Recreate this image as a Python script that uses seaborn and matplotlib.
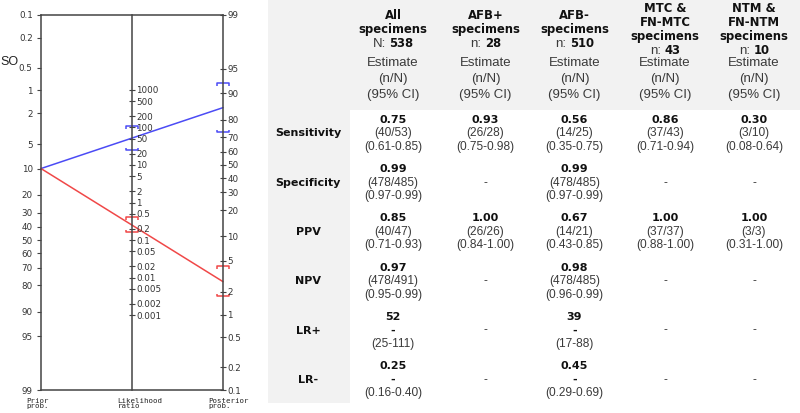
import numpy as np
import pandas as pd
import matplotlib
matplotlib.use("Agg")
import matplotlib.pyplot as plt
import seaborn as sns
from matplotlib.path import Path
from matplotlib.patches import Rectangle

# --- nomogram data ---
prob_ticks = [0.1, 0.2, 0.5, 1, 2, 5, 10, 20, 30, 40, 50, 60, 70, 80, 90, 95, 99]
lr_ticks = [1000, 500, 200, 100, 50, 20, 10, 5, 2, 1, 0.5, 0.2, 0.1,
            0.05, 0.02, 0.01, 0.005, 0.002, 0.001]
nomo_prior = 10            # prior probability (%)
nomo_lr = [52, 0.25]       # LR+ , LR-
nomo_lr_low = [25, 0.16]
nomo_lr_high = [111, 0.40]
nomo_colors = ["#4b4bf5", "#f04848"]

# --- table data ---
col_names = ["All\nspecimens", "AFB+\nspecimens", "AFB-\nspecimens",
             "MTC &\nFN-MTC\nspecimens", "NTM &\nFN-NTM\nspecimens"]
col_n_prefix = ["N:", "n:", "n:", "n:", "n:"]
col_n = [538, 28, 510, 43, 10]
metrics = ["Sensitivity", "Specificity", "PPV", "NPV", "LR+", "LR-"]

sens_est = ["0.75", "0.93", "0.56", "0.86", "0.30"]
sens_n = ["40/53", "26/28", "14/25", "37/43", "3/10"]
sens_ci = ["0.61-0.85", "0.75-0.98", "0.35-0.75", "0.71-0.94", "0.08-0.64"]
spec_est = ["0.99", None, "0.99", None, None]
spec_n = ["478/485", None, "478/485", None, None]
spec_ci = ["0.97-0.99", None, "0.97-0.99", None, None]
ppv_est = ["0.85", "1.00", "0.67", "1.00", "1.00"]
ppv_n = ["40/47", "26/26", "14/21", "37/37", "3/3"]
ppv_ci = ["0.71-0.93", "0.84-1.00", "0.43-0.85", "0.88-1.00", "0.31-1.00"]
npv_est = ["0.97", None, "0.98", None, None]
npv_n = ["478/491", None, "478/485", None, None]
npv_ci = ["0.95-0.99", None, "0.96-0.99", None, None]
lrp_est = ["52", None, "39", None, None]
lrp_n = ["-", None, "-", None, None]
lrp_ci = ["25-111", None, "17-88", None, None]
lrn_est = ["0.25", None, "0.45", None, None]
lrn_n = ["-", None, "-", None, None]
lrn_ci = ["0.16-0.40", None, "0.29-0.69", None, None]

table_est = [sens_est, spec_est, ppv_est, npv_est, lrp_est, lrn_est]
table_n = [sens_n, spec_n, ppv_n, npv_n, lrp_n, lrn_n]
table_ci = [sens_ci, spec_ci, ppv_ci, npv_ci, lrp_ci, lrn_ci]

sns.set_style("white")
plt.rcParams["font.family"] = ["Liberation Sans", "DejaVu Sans"]

W, H = 800, 413
fig = plt.figure(figsize=(W / 100, H / 100), dpi=100)
fig.patch.set_facecolor("white")


def logit(p):
    p = np.asarray(p, dtype=float) / 100.0
    return np.log(p / (1 - p))


z_top = -float(logit(prob_ticks[0]))
z_bot = -float(logit(prob_ticks[-1]))
shift = z_top + z_bot


def z_prior(p):
    return -logit(p)


def z_post(p):
    return logit(p) + shift


def z_lr(lr):
    return (np.log(np.asarray(lr, dtype=float)) + shift) / 2


# ---------------- table (pixel layout) ----------------
ax_t = fig.add_axes([0, 0, 1, 1], zorder=-1)
ax_t.set_xlim(0, W)
ax_t.set_ylim(H, 0)
ax_t.axis("off")
gray = "#f2f2f2"
ax_t.add_patch(Rectangle((268, 0), 82, 403, color=gray, lw=0))
ax_t.add_patch(Rectangle((268, 0), W - 268, 110, color=gray, lw=0))

col_x = [393, 485.5, 574.5, 665, 754]
label_x = 308
txt_col = "#3a3a3a"
bold_font = dict(family="DejaVu Sans", weight="bold", size=8, color="#111111")
head_font = dict(family="DejaVu Sans", weight="bold", size=8.4, color="#111111")
reg_font = dict(family="Liberation Sans", size=8.6, color=txt_col)
est_font = dict(family="Liberation Sans", size=9.5, color=txt_col)

renderer = fig.canvas.get_renderer()
for x, name, pre, n in zip(col_x, col_names, col_n_prefix, col_n):
    lines = name.split("\n")
    k = len(lines) + 1
    ys = 29.5 + (np.arange(k) - (k - 1) / 2) * 14.3
    for y, ln in zip(ys, lines):
        ax_t.text(x, y, ln, ha="center", va="center", **head_font)
    # "N: 538" with a bold number, centred as one piece
    t1 = ax_t.text(x, ys[-1], pre, ha="left", va="center", **est_font)
    t2 = ax_t.text(x, ys[-1], str(n), ha="left", va="center", **head_font)
    w1 = t1.get_window_extent(renderer).width
    w2 = t2.get_window_extent(renderer).width
    gap = 3.5
    start = x - (w1 + gap + w2) / 2
    t1.set_x(start)
    t2.set_x(start + w1 + gap)
    for y, ln in zip([63, 79, 95], ["Estimate", "(n/N)", "(95% CI)"]):
        ax_t.text(x, y, ln, ha="center", va="center", **est_font)

row_y = 133.3 + 49.3 * np.arange(len(metrics))
dy = 13.5
for r, (y, m) in enumerate(zip(row_y, metrics)):
    ax_t.text(label_x, y, m, ha="center", va="center", **bold_font)
    for c, x in enumerate(col_x):
        est = table_est[r][c]
        if est is None:
            ax_t.text(x, y, "-", ha="center", va="center", **reg_font)
            continue
        ax_t.text(x, y - dy, est, ha="center", va="center", **bold_font)
        nn = table_n[r][c]
        if nn == "-":
            ax_t.text(x, y, "-", ha="center", va="center", **bold_font)
        else:
            ax_t.text(x, y, "(" + nn + ")", ha="center", va="center", **reg_font)
        ax_t.text(x, y + dy, "(" + table_ci[r][c] + ")", ha="center",
                  va="center", **reg_font)

ax_t.text(0, 62, "SO", ha="left", va="center", family="Liberation Sans",
          size=9, color="#222222")

# ---------------- nomogram ----------------
x0, y0, w, h = 41 / W, (H - 390) / H, 182 / W, 375 / H
ax = fig.add_axes([x0, y0, w, h])
ax.set_xlim(0, 1)
ax.set_ylim(z_bot, z_top)
ax.set_xticks([])
axis_col = "#444444"
for s in ax.spines.values():
    s.set_color(axis_col)
    s.set_linewidth(1.1)
tick_font = dict(family="DejaVu Sans", size=6.3)
ax.set_yticks(z_prior(prob_ticks))
ax.set_yticklabels([f"{v:g}" for v in prob_ticks], **tick_font)
ax.tick_params(axis="y", direction="out", length=3, width=0.8, pad=3,
               colors=axis_col, labelcolor="#333333")

ax_r = ax.twinx()
ax_r.set_ylim(z_bot, z_top)
ax_r.set_yticks(z_post(prob_ticks))
ax_r.set_yticklabels([f"{v:g}" for v in prob_ticks], **tick_font)
ax_r.tick_params(axis="y", direction="inout", length=4, width=0.8, pad=1,
                 colors=axis_col, labelcolor="#333333")
for s in ax_r.spines.values():
    s.set_visible(False)

ax_m = fig.add_axes([x0 + w / 2, y0, 0.0001, h])
ax_m.patch.set_visible(False)
ax_m.set_ylim(z_bot, z_top)
ax_m.set_xticks([])
ax_m.set_yticks(z_lr(lr_ticks))
ax_m.set_yticklabels([f"{v:g}" for v in lr_ticks], **tick_font)
ax_m.yaxis.tick_right()
ax_m.tick_params(axis="y", direction="inout", length=4, width=0.8, pad=1,
                 colors=axis_col, labelcolor="#333333")
for k, s in ax_m.spines.items():
    s.set_visible(k == "right")
    s.set_color(axis_col)
    s.set_linewidth(1.1)

# lines from prior through LR to posterior
rows = []
for name, lr in zip(["pos", "neg"], nomo_lr):
    post_z = float(logit(nomo_prior)) + np.log(lr) + shift
    rows.append(dict(test=name, x=0.0, z=float(z_prior(nomo_prior))))
    rows.append(dict(test=name, x=1.0, z=post_z))
df = pd.DataFrame(rows)
sns.lineplot(data=df, x="x", y="z", hue="test", sort=False, legend=False,
             palette=dict(zip(["pos", "neg"], nomo_colors)), linewidth=1.1,
             ax=ax, clip_on=False)
ax.set_xlabel("")
ax.set_ylabel("")

# CI brackets
legs_down = Path([(-1, -0.45), (-1, 0), (1, 0), (1, -0.45)],
                 [Path.MOVETO, Path.LINETO, Path.LINETO, Path.LINETO])
legs_up = Path([(-1, 0.45), (-1, 0), (1, 0), (1, 0.45)],
               [Path.MOVETO, Path.LINETO, Path.LINETO, Path.LINETO])
for lo, hi, col in zip(nomo_lr_low, nomo_lr_high, nomo_colors):
    base = float(logit(nomo_prior))
    for lr_v, mk in [(hi, legs_down), (lo, legs_up)]:
        ax.plot([0.5, 1.0], [float(z_lr(lr_v)), base + np.log(lr_v) + shift],
                ls="none", marker=mk, ms=8, mfc="none", mec=col, mew=1.1,
                clip_on=False)

# axis titles
title_font = dict(family="DejaVu Sans Mono", size=5.3, color="#222222")
for xv, lab in zip([0, 0.5, 1], ["Prior\nprob.", "Likelihood\nratio",
                                  "Posterior\nprob."]):
    ax.annotate(lab, xy=(xv, 0), xycoords=("data", "axes fraction"),
                xytext=(-10.5, -5.5), textcoords="offset points",
                ha="left", va="top", linespacing=0.95, annotation_clip=False,
                **title_font)

fig.savefig("out.png", dpi=100, facecolor="white")
